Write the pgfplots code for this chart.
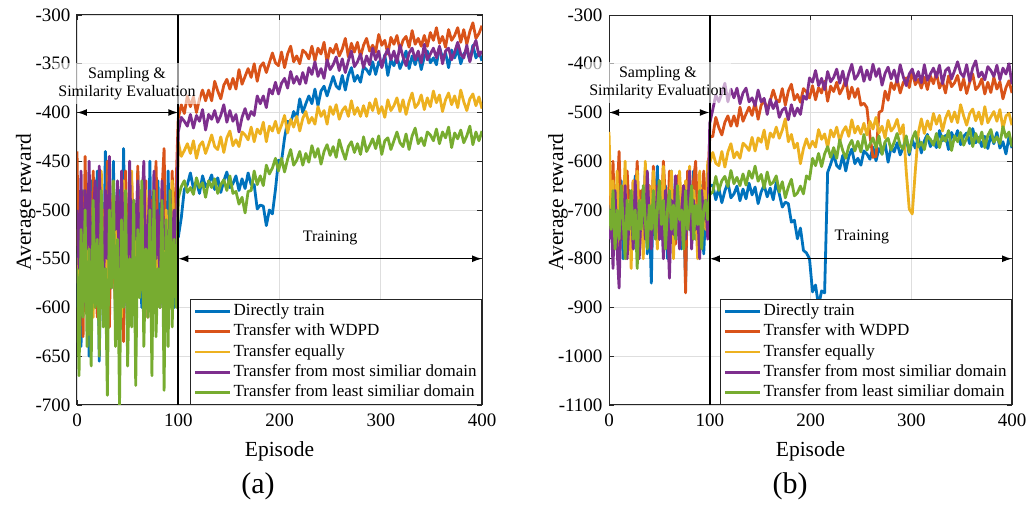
\documentclass[border=0pt]{standalone}
\usepackage{fontspec}
\setmainfont{Liberation Serif}
\usepackage{pgfplots}
\usepackage{pgfplotstable}
\pgfplotsset{compat=1.18}
\usetikzlibrary{arrows.meta}
\definecolor{mblue}{rgb}{0,0.447,0.741}
\definecolor{morange}{rgb}{0.85,0.325,0.098}
\definecolor{myellow}{rgb}{0.929,0.694,0.125}
\definecolor{mpurple}{rgb}{0.494,0.184,0.556}
\definecolor{mgreen}{rgb}{0.466,0.674,0.188}

\pgfplotstableread{
x b o y p g
0 -600 -440 -520 -500 -560
2 -520 -580 -600 -560 -670
4 -640 -500 -480 -460 -520
6 -480 -630 -560 -600 -610
8 -580 -445 -510 -480 -500
10 -500 -560 -590 -540 -640
12 -650 -520 -470 -450 -540
14 -470 -600 -550 -590 -660
16 -560 -460 -610 -510 -490
18 -600 -540 -500 -470 -600
20 -460 -610 -530 -570 -530
22 -655 -470 -580 -455 -650
24 -510 -590 -460 -530 -480
26 -590 -500 -570 -600 -620
28 -440 -560 -520 -480 -560
30 -620 -450 -600 -550 -690
32 -500 -620 -445 -445 -500
34 -570 -490 -560 -580 -580
36 -450 -540 -500 -500 -470
38 -610 -600 -590 -520 -640
40 -520 -480 -480 -470 -530
42 -480 -570 -540 -590 -700
44 -590 -510 -610 -460 -510
46 -437 -635 -470 -540 -600
48 -560 -460 -550 -510 -480
50 -620 -550 -520 -600 -660
52 -470 -590 -580 -450 -550
54 -580 -470 -460 -560 -620
56 -500 -530 -600 -490 -490
58 -640 -600 -510 -530 -680
60 -460 -455 -560 -470 -520
62 -550 -560 -490 -580 -590
64 -600 -500 -570 -500 -470
66 -480 -580 -530 -450 -640
68 -520 -470 -480 -560 -540
70 -590 -610 -600 -520 -610
72 -450 -520 -510 -480 -500
74 -610 -490 -550 -600 -670
76 -500 -570 -470 -460 -480
78 -570 -450 -590 -550 -630
80 -470 -540 -520 -500 -560
82 -600 -600 -560 -580 -600
84 -530 -480 -480 -470 -490
86 -480 -437 -600 -540 -685
88 -590 -560 -500 -520 -510
90 -460 -510 -540 -590 -640
92 -570 -590 -580 -480 -480
94 -510 -460 -470 -560 -620
96 -600 -540 -520 -500 -530
98 -480 -470 -560 -540 -600
100 -528 -406 -430 -420 -488
103 -508 -392 -445 -405 -476
106 -479 -401 -439 -409 -470
109 -474 -383 -432 -414 -482
112 -462 -394 -442 -402 -477
115 -478 -384 -429 -416 -484
118 -471 -400 -447 -403 -467
121 -483 -386 -434 -409 -477
124 -465 -377 -430 -397 -472
127 -476 -388 -442 -418 -487
130 -472 -377 -433 -402 -470
133 -464 -388 -423 -407 -477
136 -479 -368 -435 -398 -468
139 -467 -378 -438 -410 -483
142 -482 -386 -425 -403 -474
145 -470 -372 -441 -392 -469
148 -461 -366 -426 -410 -480
151 -477 -376 -419 -398 -465
154 -473 -365 -434 -409 -483
157 -465 -376 -428 -402 -481
160 -480 -356 -435 -420 -494
163 -468 -371 -420 -405 -487
166 -478 -363 -423 -396 -503
169 -462 -355 -428 -407 -481
172 -474 -364 -415 -399 -480
175 -474 -350 -430 -403 -460
178 -499 -368 -417 -383 -474
181 -495 -353 -422 -391 -465
184 -496 -349 -410 -383 -475
187 -516 -359 -430 -395 -454
190 -500 -349 -414 -376 -463
193 -504 -339 -419 -381 -457
196 -479 -349 -409 -369 -447
199 -449 -352 -421 -381 -460
202 -450 -338 -413 -370 -447
205 -426 -354 -403 -365 -461
208 -409 -340 -421 -375 -448
211 -411 -332 -407 -358 -438
214 -399 -348 -415 -370 -454
217 -406 -342 -404 -363 -449
220 -386 -350 -419 -371 -440
223 -400 -336 -406 -359 -454
226 -391 -339 -399 -370 -442
229 -383 -345 -411 -354 -451
232 -391 -332 -405 -361 -434
235 -376 -347 -412 -348 -446
238 -393 -334 -394 -363 -437
241 -378 -340 -404 -355 -453
244 -373 -328 -398 -365 -440
247 -383 -349 -412 -346 -433
250 -373 -334 -394 -356 -444
253 -363 -339 -402 -351 -435
256 -373 -330 -392 -343 -446
259 -376 -342 -407 -357 -428
262 -362 -335 -398 -345 -439
265 -377 -324 -394 -359 -448
268 -362 -343 -404 -347 -435
271 -354 -329 -388 -337 -430
274 -368 -338 -402 -353 -441
277 -362 -328 -395 -348 -432
280 -369 -343 -404 -340 -443
283 -353 -331 -393 -354 -425
286 -356 -324 -404 -342 -440
289 -361 -337 -390 -351 -434
292 -348 -331 -398 -334 -427
295 -361 -338 -386 -346 -437
298 -348 -320 -401 -337 -424
301 -353 -331 -394 -354 -443
304 -341 -326 -405 -342 -429
307 -362 -340 -387 -335 -426
310 -346 -323 -398 -346 -438
313 -352 -330 -393 -337 -429
316 -342 -321 -385 -349 -420
319 -355 -336 -399 -331 -431
322 -347 -326 -387 -343 -435
325 -337 -322 -402 -352 -422
328 -355 -333 -389 -339 -438
331 -342 -316 -380 -334 -424
334 -351 -330 -395 -346 -416
337 -340 -324 -391 -337 -432
340 -356 -332 -382 -349 -426
343 -343 -321 -397 -330 -434
346 -337 -332 -385 -346 -420
349 -349 -318 -394 -340 -423
352 -344 -326 -378 -334 -429
355 -351 -313 -390 -344 -417
358 -333 -329 -382 -332 -432
361 -344 -322 -399 -350 -420
364 -339 -333 -387 -337 -426
367 -354 -315 -380 -334 -415
370 -336 -326 -392 -346 -436
373 -344 -321 -383 -338 -421
376 -335 -313 -395 -328 -427
379 -350 -328 -377 -340 -418
382 -340 -315 -389 -344 -431
385 -336 -330 -398 -331 -424
388 -347 -317 -386 -348 -414
391 -331 -308 -381 -334 -433
394 -344 -324 -393 -326 -420
397 -338 -319 -384 -342 -429
400 -347 -311 -396 -337 -419
}\tabA

\pgfplotstableread{
x b o y p g
0 -720 -640 -540 -760 -700
2 -680 -700 -700 -700 -740
4 -780 -600 -640 -820 -660
6 -650 -760 -760 -660 -780
8 -760 -680 -620 -780 -700
10 -700 -580 -800 -860 -760
12 -640 -720 -660 -700 -650
14 -800 -650 -720 -760 -720
16 -690 -740 -600 -650 -800
18 -740 -620 -760 -800 -680
20 -660 -700 -680 -720 -740
22 -720 -760 -820 -680 -660
24 -780 -640 -640 -780 -760
26 -630 -690 -700 -640 -700
28 -710 -600 -620 -740 -820
30 -760 -730 -740 -800 -680
32 -680 -660 -680 -700 -740
34 -740 -780 -800 -660 -650
36 -620 -620 -600 -760 -720
38 -790 -700 -720 -620 -780
40 -700 -650 -650 -720 -690
42 -850 -740 -760 -780 -740
44 -660 -610 -620 -690 -660
46 -720 -690 -700 -740 -760
48 -610 -760 -780 -650 -700
50 -760 -640 -640 -760 -640
52 -690 -710 -720 -700 -730
54 -740 -600 -610 -800 -680
56 -650 -680 -760 -660 -780
58 -800 -740 -680 -720 -700
60 -700 -620 -700 -840 -660
62 -620 -700 -620 -680 -740
64 -760 -660 -800 -750 -690
66 -680 -770 -660 -630 -760
68 -720 -630 -740 -720 -650
70 -640 -690 -620 -780 -720
72 -780 -720 -700 -700 -700
74 -700 -650 -780 -650 -780
76 -850 -870 -640 -760 -660
78 -660 -620 -720 -700 -740
80 -740 -700 -610 -620 -700
82 -700 -760 -760 -780 -650
84 -620 -640 -660 -680 -760
86 -760 -600 -700 -740 -690
88 -680 -720 -800 -700 -730
90 -720 -660 -620 -800 -660
92 -650 -740 -720 -660 -780
94 -790 -620 -660 -720 -700
96 -700 -690 -740 -680 -680
98 -660 -650 -600 -760 -720
100 -650 -550 -603 -522 -668
103 -649 -549 -582 -494 -663
106 -679 -510 -604 -464 -631
109 -655 -531 -609 -478 -660
112 -685 -546 -580 -460 -640
115 -661 -520 -612 -440 -631
118 -643 -507 -581 -478 -652
121 -675 -528 -564 -452 -619
124 -667 -507 -593 -470 -646
127 -651 -528 -581 -450 -633
130 -681 -489 -594 -482 -650
133 -657 -518 -563 -460 -626
136 -677 -503 -569 -450 -649
139 -645 -489 -578 -478 -620
142 -669 -506 -551 -470 -635
145 -653 -479 -579 -486 -610
148 -687 -514 -552 -454 -641
151 -663 -485 -561 -478 -627
154 -649 -475 -536 -471 -655
157 -673 -495 -575 -504 -622
160 -655 -476 -542 -473 -648
163 -679 -454 -551 -492 -643
166 -643 -474 -530 -477 -630
169 -667 -478 -553 -510 -663
172 -694 -451 -536 -495 -642
175 -684 -485 -513 -490 -675
178 -687 -456 -560 -515 -653
181 -725 -442 -545 -484 -637
184 -721 -474 -573 -507 -671
187 -759 -463 -563 -491 -665
190 -737 -479 -605 -504 -651
193 -783 -451 -574 -466 -667
196 -788 -458 -554 -473 -630
199 -800 -470 -573 -429 -637
202 -868 -445 -559 -438 -594
205 -854 -474 -571 -414 -609
208 -897 -449 -535 -445 -584
211 -866 -460 -555 -430 -611
214 -870 -436 -544 -453 -585
217 -623 -477 -572 -416 -570
220 -606 -446 -536 -437 -592
223 -586 -457 -550 -428 -572
226 -609 -438 -530 -411 -594
229 -615 -462 -559 -440 -556
232 -588 -450 -539 -415 -578
235 -620 -432 -529 -445 -594
238 -590 -472 -549 -420 -569
241 -575 -448 -515 -401 -557
244 -605 -469 -542 -432 -579
247 -594 -451 -528 -423 -559
250 -608 -485 -544 -406 -581
253 -579 -481 -522 -436 -545
256 -585 -490 -546 -413 -577
259 -596 -548 -518 -433 -565
262 -571 -592 -534 -401 -552
265 -599 -590 -510 -426 -572
268 -574 -500 -542 -410 -548
271 -585 -496 -528 -444 -586
274 -562 -456 -552 -420 -560
277 -602 -475 -516 -407 -553
280 -571 -439 -538 -431 -577
283 -581 -453 -530 -413 -561
286 -562 -432 -514 -438 -543
289 -587 -460 -544 -402 -567
292 -572 -439 -525 -426 -575
295 -550 -429 -620 -445 -548
298 -587 -449 -698 -421 -582
301 -556 -415 -708 -411 -554
304 -573 -443 -620 -434 -539
307 -552 -432 -542 -416 -571
310 -583 -450 -513 -439 -561
313 -558 -428 -543 -402 -576
316 -545 -453 -517 -434 -548
319 -570 -425 -535 -421 -555
322 -559 -441 -502 -409 -567
325 -572 -418 -524 -428 -543
328 -537 -450 -506 -403 -572
331 -558 -436 -538 -441 -548
334 -547 -460 -512 -414 -559
337 -576 -425 -497 -408 -537
340 -541 -447 -519 -431 -578
343 -556 -439 -499 -414 -548
346 -537 -424 -521 -396 -560
349 -566 -454 -484 -419 -541
352 -549 -431 -507 -427 -567
355 -542 -461 -526 -402 -552
358 -564 -438 -502 -436 -532
361 -533 -421 -493 -408 -570
364 -562 -453 -517 -394 -543
367 -551 -446 -499 -427 -561
370 -570 -431 -524 -417 -540
373 -549 -462 -488 -433 -572
376 -574 -438 -521 -406 -547
379 -547 -459 -509 -414 -535
382 -564 -428 -498 -426 -561
385 -541 -452 -518 -403 -550
388 -573 -437 -494 -433 -564
391 -560 -472 -533 -409 -529
394 -585 -449 -507 -421 -551
397 -550 -435 -502 -400 -540
400 -573 -460 -526 -442 -570
}\tabB

\pgfplotsset{
  myaxis/.style={
    scale only axis, height=390pt, clip mode=individual,
    xmin=0, xmax=400, xtick={0,100,200,300,400},
    grid=major, grid style={draw=black!13, line width=0.8pt},
    axis line style={draw=black!85, line width=1pt},
    tick style={draw=black!85, line width=0.8pt},
    tick align=inside, major tick length=5pt,
    /pgf/number format/assume math mode=true,
    /pgf/number format/1000 sep={},
    ticklabel style={font=\fontsize{19}{22}\selectfont},
    xticklabel style={yshift=-5pt},
    yticklabel style={xshift=-3pt},
    xlabel={Episode}, ylabel={Average reward},
    every axis x label/.style={at={(axis description cs:0.5,-0.1333)},anchor=base,font=\fontsize{21.5}{24}\selectfont},
    every axis y label/.style={at={(axis description cs:-0.114,0.52)},rotate=90,anchor=base,font=\fontsize{21.5}{24}\selectfont},
    legend style={at={(1,0)}, anchor=south east, draw=black!85, line width=0.8pt,
      fill=white, font=\fontsize{17}{20}\selectfont, inner xsep=3pt, inner ysep=1.5pt,
      row sep=0pt, nodes={text height=12pt, text depth=4pt, inner ysep=2.2pt, inner xsep=2pt}},
    legend cell align=left,
    legend image code/.code={\draw[#1] (0pt,0pt) -- (35pt,0pt);},
    every axis plot/.append style={line width=2.8pt, line join=round},
  }
}

\begin{document}
\begin{tikzpicture}
\path[use as bounding box] (0pt,0pt) rectangle (1030pt,505pt);
\begin{axis}[myaxis, at={(77pt,100pt)}, anchor=south west, width=405pt,
  ymin=-700, ymax=-300, ytick={-700,-650,-600,-550,-500,-450,-400,-350,-300}]
\addplot[mblue] table[x=x,y=b]{\tabA};
\addplot[morange] table[x=x,y=o]{\tabA};
\addplot[myellow] table[x=x,y=y]{\tabA};
\addplot[mpurple] table[x=x,y=p]{\tabA};
\addplot[mgreen] table[x=x,y=g]{\tabA};
\legend{Directly train, Transfer with WDPD, Transfer equally, Transfer from most similiar domain, Transfer from least similiar domain}
\draw[black, line width=2pt] (axis cs:100,-700) -- (axis cs:100,-300);
\draw[{Latex[length=10pt,width=7pt]}-{Latex[length=10pt,width=7pt]}, line width=1.5pt] (axis cs:0,-400) -- (axis cs:100,-400);
\draw[{Latex[length=10pt,width=7pt]}-{Latex[length=10pt,width=7pt]}, line width=1.5pt] (axis cs:100,-550) -- (axis cs:400,-550);
\node[align=center, fill=white, fill opacity=0.6, text opacity=1, inner sep=4pt, font=\fontsize{16}{18}\selectfont] at (axis cs:49.4,-370) {Sampling \&\\Similarity Evaluation};
\node[font=\fontsize{16}{18}\selectfont] at (axis cs:250,-529) {Training};
\end{axis}
\begin{axis}[myaxis, at={(609pt,100pt)}, anchor=south west, width=403pt,
  ymin=-1100, ymax=-300, ytick={-1100,-1000,-900,-800,-700,-600,-500,-400,-300}]
\addplot[mblue] table[x=x,y=b]{\tabB};
\addplot[morange] table[x=x,y=o]{\tabB};
\addplot[myellow] table[x=x,y=y]{\tabB};
\addplot[mpurple] table[x=x,y=p]{\tabB};
\addplot[mgreen] table[x=x,y=g]{\tabB};
\legend{Directly train, Transfer with WDPD, Transfer equally, Transfer from most similiar domain, Transfer from least similiar domain}
\draw[black, line width=2pt] (axis cs:100,-1100) -- (axis cs:100,-300);
\draw[{Latex[length=10pt,width=7pt]}-{Latex[length=10pt,width=7pt]}, line width=1.5pt] (axis cs:0,-500) -- (axis cs:100,-500);
\draw[{Latex[length=10pt,width=7pt]}-{Latex[length=10pt,width=7pt]}, line width=1.5pt] (axis cs:100,-800) -- (axis cs:400,-800);
\node[align=center, fill=white, fill opacity=0.6, text opacity=1, inner sep=4pt, font=\fontsize{16}{18}\selectfont] at (axis cs:48.6,-438) {Sampling \&\\Similarity Evaluation};
\node[font=\fontsize{16}{18}\selectfont] at (axis cs:251,-755) {Training};
\end{axis}
\node[anchor=base, font=\fontsize{30}{34}\selectfont] at (258pt,11pt) {(a)};
\node[anchor=base, font=\fontsize{30}{34}\selectfont] at (790pt,11pt) {(b)};
\end{tikzpicture}
\end{document}
